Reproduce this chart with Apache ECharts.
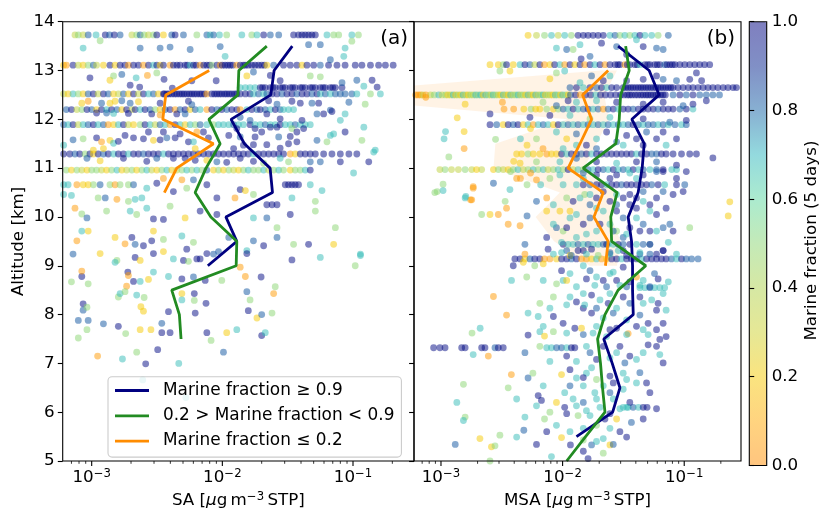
<!DOCTYPE html>
<html><head><meta charset="utf-8">
<script src="https://cdn.jsdelivr.net/npm/echarts@6/dist/echarts.min.js"></script>
<style>html,body{margin:0;padding:0;background:#fff}#c{width:823px;height:514px}</style>
</head><body><div id="c"></div>
<script>
// marine-fraction classes
const O=0.05, Y=0.2, L=0.35, G=0.5, A=0.68, B=0.82, N=0.97;

// ---------- Panel (a): SA ----------
const saLeg13_73=[[7.45e-4,L],[7.9e-4,G],[8.6e-4,L],[9.4e-4,B],[1.08e-3,A],[1.27e-3,N],[1.37e-3,B],[1.49e-3,N],[1.65e-3,B],[2.03e-3,L],[2.21e-3,G],[2.35e-3,B],[2.52e-3,G],[2.72e-3,L],[2.97e-3,G],[3.15e-3,N],[3.54e-3,Y],[4.1e-3,B],[4.35e-3,N],[5.04e-3,B],[6.38e-3,G],[7.61e-3,B],[8.07e-3,A],[8.56e-3,B],[9.5e-3,A],[1.08e-2,G],[1.41e-2,A],[1.68e-2,G],[1.84e-2,A],[2.07e-2,N],[2.33e-2,B],[2.7e-2,B],[3.51e-2,N],[3.83e-2,N],[4.07e-2,N],[4.31e-2,N],[4.57e-2,N],[4.85e-2,N],[5.15e-2,N],[6.32e-2,A],[7.11e-2,G],[7.77e-2,G],[9.8e-2,A],[0.11,G]];
const saLeg13_11=[[6.1e-4,Y],[6.4e-4,O],[7.2e-4,N],[7.9e-4,L],[8.6e-4,Y],[9.4e-4,G],[1.03e-3,B],[1.09e-3,L],[1.23e-3,Y],[1.38e-3,N],[1.51e-3,Y],[1.65e-3,N],[1.8e-3,N],[1.91e-3,O],[2.09e-3,N],[2.28e-3,N],[2.49e-3,O],[2.72e-3,N],[2.97e-3,A],[3.15e-3,N],[3.34e-3,Y],[3.54e-3,N],[3.98e-3,O],[4.22e-3,N],[4.5e-3,N],[4.75e-3,N],[5.19e-3,N],[5.4e-3,N],[5.67e-3,A],[6.01e-3,N],[6.3e-3,N],[6.76e-3,O],[7.2e-3,N],[7.61e-3,N],[8.0e-3,N],[8.3e-3,G],[9.08e-3,N],[9.63e-3,O],[1.0e-2,N],[1.05e-2,N],[1.1e-2,N],[1.15e-2,N],[1.2e-2,N],[1.29e-2,O],[1.37e-2,N],[1.45e-2,N],[1.5e-2,N],[1.58e-2,N],[1.68e-2,N],[1.78e-2,N],[1.89e-2,N],[2.0e-2,N],[2.1e-2,N],[2.19e-2,Y],[2.47e-2,B],[2.94e-2,N],[3.31e-2,N],[3.72e-2,N],[4.07e-2,Y],[4.44e-2,N],[5.0e-2,N],[5.62e-2,B],[6.5e-2,N],[7.54e-2,N],[8.7e-2,N],[0.104,N],[0.117,N],[0.136,N],[0.157,N],[0.177,N],[0.203,N]];
const saLeg12_65=[[1.37e-2,A],[1.5e-2,A],[1.63e-2,A],[1.78e-2,A],[1.95e-2,N],[2.03e-2,N],[2.13e-2,N],[2.33e-2,N],[2.44e-2,N],[2.54e-2,N],[2.77e-2,N],[2.9e-2,N],[3.03e-2,N],[3.31e-2,N],[3.45e-2,N],[3.61e-2,N],[3.95e-2,N],[4.1e-2,N],[4.31e-2,N],[4.71e-2,N],[4.9e-2,N],[5.15e-2,N],[5.62e-2,N],[5.9e-2,N],[6.14e-2,N],[6.71e-2,N],[7.0e-2,N],[7.33e-2,N],[8.24e-2,N]];
const saLeg12_52=[[6.1e-4,L],[6.6e-4,Y],[7.2e-4,A],[7.9e-4,G],[8.6e-4,Y],[9.4e-4,B],[1.03e-3,N],[1.12e-3,L],[1.23e-3,N],[1.34e-3,B],[1.47e-3,Y],[1.6e-3,L],[1.75e-3,B],[1.91e-3,Y],[2.09e-3,N],[2.28e-3,L],[2.49e-3,N],[2.72e-3,A],[2.97e-3,B],[3.24e-3,Y],[3.54e-3,N],[3.6e-3,N],[3.76e-3,N],[3.9e-3,N],[4.1e-3,N],[4.3e-3,N],[4.48e-3,N],[4.7e-3,N],[4.9e-3,N],[5.1e-3,N],[5.34e-3,N],[5.6e-3,N],[5.84e-3,N],[6.1e-3,N],[6.38e-3,N],[6.7e-3,N],[6.96e-3,N],[7.3e-3,N],[7.61e-3,O],[8.3e-3,N],[8.7e-3,N],[9.08e-3,N],[9.5e-3,N],[9.9e-3,N],[1.04e-2,N],[1.08e-2,N],[1.13e-2,N],[1.18e-2,N],[1.24e-2,N],[1.29e-2,N],[1.37e-2,N],[1.5e-2,N],[1.63e-2,N],[1.73e-2,A],[1.89e-2,B],[2.07e-2,A],[2.19e-2,B],[2.4e-2,N],[2.62e-2,N],[2.86e-2,B],[3.12e-2,N],[3.41e-2,N],[3.72e-2,B],[4.07e-2,N],[4.44e-2,N],[4.85e-2,B],[5.3e-2,N],[5.62e-2,A],[6.14e-2,B],[6.71e-2,A],[7.33e-2,B],[8.0e-2,B],[8.7e-2,B],[9.8e-2,B],[0.107,A],[0.136,G],[0.162,A]];
const saLeg12_20=[[6.4e-4,B],[7.0e-4,N],[7.7e-4,L],[8.4e-4,G],[9.2e-4,N],[1.0e-3,B],[1.09e-3,Y],[1.19e-3,N],[1.3e-3,A],[1.42e-3,N],[1.56e-3,B],[1.7e-3,Y],[1.85e-3,N],[2.03e-3,L],[2.15e-3,N],[2.35e-3,A],[2.56e-3,N],[2.8e-3,B],[3.06e-3,G],[3.34e-3,Y],[3.65e-3,B],[3.98e-3,N],[4.35e-3,O],[4.75e-3,B],[5.19e-3,N],[5.67e-3,Y],[6.2e-3,B],[6.76e-3,A],[7.61e-3,O],[8.3e-3,N],[9.08e-3,B],[9.9e-3,N],[1.08e-2,B],[1.18e-2,N],[1.29e-2,N],[1.37e-2,O],[1.54e-2,A],[1.68e-2,N],[1.84e-2,B],[1.95e-2,N],[2.13e-2,B],[2.33e-2,A],[2.54e-2,N],[2.77e-2,B],[2.94e-2,A],[3.21e-2,A],[3.51e-2,A]];
const saLeg11_89=[[6.1e-4,B],[6.6e-4,A],[7.2e-4,N],[7.9e-4,L],[8.6e-4,A],[9.4e-4,B],[1.03e-3,N],[1.12e-3,A],[1.23e-3,B],[1.34e-3,O],[1.47e-3,Y],[1.6e-3,A],[1.75e-3,N],[1.91e-3,L],[2.09e-3,Y],[2.35e-3,G],[2.56e-3,N],[2.8e-3,A],[3.06e-3,L],[3.34e-3,B],[3.65e-3,A],[3.98e-3,O],[4.35e-3,N],[4.75e-3,A],[5.19e-3,Y],[5.67e-3,A],[6.2e-3,G],[6.76e-3,B],[7.61e-3,A],[8.56e-3,G],[9.35e-3,A],[1.02e-2,A],[1.12e-2,A],[1.22e-2,B],[1.33e-2,A],[1.45e-2,A],[1.63e-2,N],[1.78e-2,A],[1.95e-2,A],[2.13e-2,B],[2.33e-2,A],[2.54e-2,A],[2.77e-2,N],[3.03e-2,A],[3.31e-2,A],[3.61e-2,B],[3.95e-2,A],[4.31e-2,A],[4.71e-2,A]];
const saLeg11_29=[[6.1e-4,N],[6.8e-4,N],[7.45e-4,B],[8.1e-4,N],[8.9e-4,G],[9.7e-4,N],[1.03e-3,Y],[1.12e-3,N],[1.23e-3,B],[1.34e-3,N],[1.47e-3,A],[1.6e-3,N],[1.75e-3,N],[1.91e-3,A],[2.09e-3,N],[2.28e-3,N],[2.49e-3,B],[2.72e-3,N],[2.97e-3,N],[3.24e-3,N],[3.54e-3,A],[3.87e-3,N],[4.22e-3,N],[4.61e-3,N],[5.04e-3,N],[5.5e-3,N],[6.01e-3,N],[6.57e-3,N],[7.17e-3,N],[7.83e-3,N],[8.56e-3,N],[9.35e-3,N],[1.02e-2,N],[1.12e-2,N],[1.22e-2,N],[1.33e-2,N],[1.45e-2,N],[1.58e-2,N],[1.73e-2,A],[1.89e-2,N],[2.07e-2,N],[2.26e-2,N],[2.47e-2,N],[2.7e-2,N],[2.94e-2,N],[3.31e-2,O],[3.61e-2,Y],[3.95e-2,N],[4.31e-2,N],[4.71e-2,N],[5.15e-2,N],[5.96e-2,N],[6.9e-2,N],[8.0e-2,N],[9.3e-2,N],[0.107,N]];
const saLeg10_96=[[6.4e-4,G],[7.0e-4,Y],[7.7e-4,G],[8.4e-4,L],[9.2e-4,Y],[1.0e-3,G],[1.09e-3,G],[1.19e-3,L],[1.3e-3,Y],[1.42e-3,G],[1.56e-3,A],[1.7e-3,Y],[1.85e-3,L],[2.03e-3,G],[2.21e-3,Y],[2.42e-3,G],[2.64e-3,A],[2.88e-3,L],[3.15e-3,Y],[3.44e-3,G],[3.76e-3,A],[4.1e-3,Y],[4.48e-3,L],[4.9e-3,G],[5.34e-3,A],[5.84e-3,G],[6.38e-3,A],[6.96e-3,G],[7.61e-3,B],[8.56e-3,Y],[9.35e-3,G],[1.02e-2,Y],[1.12e-2,G],[1.22e-2,L],[1.33e-2,Y],[1.45e-2,G],[1.58e-2,A],[1.73e-2,G],[1.89e-2,G],[2.07e-2,A],[2.26e-2,L],[2.47e-2,G],[2.7e-2,A],[2.94e-2,G],[3.31e-2,Y],[3.61e-2,G],[3.95e-2,G],[4.31e-2,A],[4.71e-2,N]];
const saLeg10_66=[[6.1e-4,A],[6.6e-4,A],[7.7e-4,O],[8.6e-4,Y],[9.4e-4,Y],[1.03e-3,G],[1.16e-3,B],[1.38e-3,G],[1.51e-3,O],[1.65e-3,G],[1.91e-3,G],[2.09e-3,B],[3.03e-2,N],[3.21e-2,N],[3.41e-2,N],[3.61e-2,N],[3.83e-2,N]];
const saPts=[[8.6e-4,13.46,A],[2.35e-3,13.46,B],[3.34e-3,13.46,B],[3.98e-3,13.48,B],[1.16e-3,13.61,G],[9.63e-3,13.49,B],[1.05e-2,13.29,A],[4.57e-2,13.53,B],[5.62e-2,13.53,B],[8.7e-2,13.46,A],[8.5e-2,13.29,A],[6.71e-2,13.22,B],[9.8e-2,13.6,G],[5.67e-3,13.43,B],
[9.7e-4,12.85,N],[1.38e-3,12.8,Y],[1.47e-3,12.89,G],[1.7e-3,12.92,B],[1.97e-3,12.7,N],[2.19e-3,12.85,A],[2.33e-3,12.66,N],[2.67e-3,12.9,O],[3.15e-3,12.95,G],[3.58e-3,12.82,N],[4.14e-3,12.64,N],[5.84e-3,12.79,N],[8.97e-3,12.79,N],[1.54e-2,12.89,Y],[1.73e-2,12.97,B],[2.33e-2,12.9,N],[2.77e-2,12.79,N],[4.71e-2,12.89,G],[5.62e-2,12.87,G],[8.24e-2,12.75,B],[0.107,12.8,B],[0.14,12.8,N],[0.121,12.68,A],[0.153,12.66,N],
[8.4e-4,12.33,Y],[9.4e-4,12.37,O],[1.19e-3,12.33,B],[1.38e-3,12.33,Y],[1.51e-3,12.37,Y],[1.7e-3,12.38,B],[1.97e-3,12.33,B],[2.28e-3,12.36,Y],[3.34e-3,12.33,N],[5.5e-3,12.37,N],[5.84e-3,12.3,B],[2.26e-2,12.38,N],[2.62e-2,12.31,B],[3.41e-2,12.37,N],[3.95e-2,12.33,N],[4.85e-2,12.33,B],[5.46e-2,12.33,N],[6.71e-2,12.19,B],[9.3e-2,12.35,B],[0.124,12.31,G],
[1.09e-3,12.13,N],[1.3e-3,12.13,B],[1.47e-3,12.12,A],[1.91e-3,12.12,N],[2.88e-3,12.11,N],[3.34e-3,12.09,O],[4.48e-3,12.11,N],[5.19e-3,12.11,B],[1.37e-2,12.04,B],[1.63e-2,11.98,B],[2.19e-2,12.11,N],[2.77e-2,12.01,N],[5.3e-2,12.11,B],[5.96e-2,12.11,N],[6.9e-2,12.16,N],[8.7e-2,12.11,A],[8.0e-2,11.98,A],
[7.2e-4,11.58,B],[8.6e-4,11.6,G],[6.1e-4,11.47,A],[1.09e-3,11.62,N],[1.19e-3,11.54,O],[1.38e-3,11.57,Y],[1.47e-3,11.51,A],[1.6e-3,11.55,N],[2.09e-3,11.62,N],[2.49e-3,11.6,N],[2.97e-3,11.57,Y],[3.34e-3,11.58,N],[3.76e-3,11.62,B],[4.35e-3,11.62,N],[4.75e-3,11.7,N],[5.5e-3,11.54,N],[6.01e-3,11.54,A],[6.2e-3,11.4,Y],[7.83e-3,11.62,N],[1.23e-3,11.4,Y],[1.03e-3,11.37,Y],[1.8e-3,11.67,N],[2.72e-3,11.74,N],[3.54e-3,11.74,N],[7.17e-3,11.74,N],[6.38e-3,11.74,O],[1.12e-2,11.67,N],[1.22e-2,11.4,N],[1.29e-2,11.81,N],[1.37e-2,11.64,B],[1.78e-2,11.81,N],[1.78e-2,11.64,N],[2.0e-2,11.74,N],[2.33e-2,11.84,N],[2.62e-2,11.84,N],[2.7e-2,11.64,B],[3.41e-2,11.81,G],[3.31e-2,11.65,N],[3.72e-2,11.74,N],[4.07e-2,11.98,N],[4.19e-2,11.81,N],[6.71e-2,11.67,A],[7.11e-2,11.7,A],[8.7e-2,11.74,N],[0.121,11.84,A],[0.117,11.57,G],[0.148,11.37,A],[6.32e-2,11.54,G],[5.3e-2,11.57,B],[3.72e-2,11.54,N],[3.21e-2,11.5,N],[2.77e-2,11.41,N],[2.19e-2,11.48,N],[1.73e-2,11.48,N],[1.45e-2,11.47,N],
[9.2e-4,11.2,B],[1.16e-3,11.15,Y],[1.75e-3,11.2,N],[2.64e-3,11.14,N],[3.15e-3,11.2,B],[4.22e-3,11.2,N],[5.19e-3,11.2,N],[6.2e-3,11.16,N],[7.61e-3,11.16,Y],[9.08e-3,11.13,B],[1.08e-2,11.12,N],[1.37e-2,11.2,N],[1.73e-2,11.14,N],[2.07e-2,11.1,G],[2.77e-2,11.2,A],[3.21e-2,11.13,G],[4.71e-2,11.13,B],[5.62e-2,11.13,B],[8.0e-2,11.13,N],[0.132,11.13,N],[0.144,11.33,A],
[6.1e-4,10.46,A],[7.0e-4,10.44,A],[1.12e-3,10.39,G],[1.27e-3,10.39,B],[1.56e-3,10.36,O],[1.91e-3,10.32,G],[2.15e-3,10.36,A],[2.42e-3,10.39,A],[2.64e-3,10.59,A],[3.15e-3,10.69,N],[3.54e-3,10.79,O],[4.22e-3,10.52,N],[4.9e-3,10.76,O],[5.34e-3,10.59,G],[6.01e-3,10.76,B],[7.61e-3,10.66,N],[9.08e-3,10.39,N],[1.25e-2,10.39,O],[1.37e-2,10.56,N],[1.5e-2,10.54,Y],[1.73e-2,10.46,G],[2.19e-2,10.25,N],[2.4e-2,10.25,N],[2.62e-2,10.25,N],[3.41e-2,10.39,A],[4.71e-2,10.66,A],[5.79e-2,10.54,A],[5.15e-2,10.32,G],[0.101,10.9,A],
[7.45e-4,10.18,O],[8.4e-4,10.06,G],[9.2e-4,9.98,B],[1.3e-3,10.12,G],[1.97e-3,10.12,A],[2.21e-3,10.05,G],[2.64e-3,10.18,A],[2.97e-3,9.96,N],[3.54e-3,9.95,N],[3.98e-3,10.22,G],[5.19e-3,9.98,Y],[6.76e-3,10.12,N],[9.08e-3,10.05,N],[1.73e-2,9.98,A],[2.19e-2,9.98,B],[2.62e-2,9.78,G],[3.31e-2,10.05,N],[5.15e-2,10.12,G],
[7.7e-4,9.51,O],[8.4e-4,9.71,A],[9.4e-4,9.71,Y],[1.51e-3,9.58,Y],[1.8e-3,9.45,O],[2.03e-3,9.58,N],[2.15e-3,9.44,B],[2.49e-3,9.41,N],[2.88e-3,9.51,N],[2.97e-3,9.71,Y],[3.54e-3,9.54,G],[4.9e-3,9.61,A],[5.34e-3,9.34,N],[6.01e-3,9.48,G],[8.56e-3,9.24,B],[1.12e-2,9.58,B],[1.54e-2,9.31,A],[1.73e-2,9.51,B],[2.07e-2,9.41,N],[2.62e-2,9.58,B],[3.51e-2,9.44,G],[4.57e-2,9.44,N],[7.11e-2,9.44,Y],[7.33e-2,9.78,G],[0.114,9.24,A],
[7.2e-4,9.24,B],[1.16e-3,9.25,Y],[1.56e-3,9.11,G],[2.15e-3,9.17,N],[2.35e-3,9.11,Y],[2.97e-3,9.25,N],[3.54e-3,9.29,Y],[4.22e-3,9.14,A],[5.04e-3,9.11,N],[5.5e-3,9.09,G],[6.38e-3,9.14,N],[6.76e-3,9.14,N],[7.61e-3,9.25,N],[9.35e-3,9.29,B],[1.37e-2,8.97,O],[1.54e-2,9.25,N],[3.41e-2,9.12,N],[5.62e-2,9.17,A],[0.114,9.21,A],[0.104,9.0,G],
[7.0e-4,8.67,G],[8.4e-4,8.78,N],[8.4e-4,8.89,O],[9.4e-4,8.63,G],[1.51e-3,9.07,A],[1.89e-3,8.87,N],[1.91e-3,8.8,O],[1.85e-3,8.58,O],[2.09e-3,8.68,N],[2.35e-3,8.68,A],[2.72e-3,8.72,Y],[2.97e-3,8.87,A],[3.87e-3,8.78,A],[4.9e-3,8.73,N],[6.01e-3,8.77,B],[7.39e-3,8.7,N],[9.9e-3,8.7,G],[1.5e-2,8.78,O],[1.98e-2,8.77,N],[2.54e-2,8.57,G],
[8.6e-4,8.22,N],[8.6e-4,8.09,B],[9.2e-4,8.15,G],[1.6e-3,8.36,G],[1.65e-3,8.43,A],[1.8e-3,8.47,G],[2.21e-3,8.4,A],[2.52e-3,8.35,G],[2.38e-3,8.16,Y],[2.49e-3,8.07,Y],[3.87e-3,8.06,N],[4.9e-3,8.43,Y],[4.9e-3,8.3,A],[6.1e-3,8.43,N],[6.1e-3,8.29,G],[6.2e-3,8.03,N],[7.5e-3,8.23,N],[1.54e-2,8.47,B],[1.58e-2,8.08,N],[1.63e-2,8.3,G],[1.84e-2,7.93,Y],[2.0e-2,8.0,B],[2.4e-2,8.03,G],[2.47e-2,8.43,O],
[7.9e-4,7.88,B],[9.4e-4,7.88,B],[9.2e-4,7.69,G],[1.23e-3,7.81,B],[1.6e-3,7.76,N],[1.82e-3,7.61,G],[2.35e-3,7.69,Y],[2.84e-3,7.69,Y],[3.44e-3,7.63,N],[3.44e-3,7.82,B],[3.98e-3,7.63,N],[7.61e-3,7.63,N],[8.2e-3,7.47,G],[1.08e-2,7.63,Y],[1.29e-2,7.69,A],[2.0e-2,7.57,N],[2.13e-2,7.63,A],[7.9e-4,7.52,G],
[1.11e-3,7.15,O],[1.72e-3,7.09,A],[2.21e-3,7.23,G],[2.59e-3,6.99,N],[3.2e-3,7.28,N],[4.64e-3,7.0,A],[1.02e-2,7.23,B],[2.46e-3,6.66,A],[5.26e-3,6.3,A]];
// profile lines (a)
const saHighAlt=[13.5,13,12.5,12,11.5,11,10.5,10,9.5,9];
const saHighVal=[0.0343,0.0249,0.0235,0.01166,0.01476,0.0232,0.0242,0.01064,0.0129,0.00774];
const saMidAlt=[13.5,13,12.5,12,11.5,11,10.5,10,9.5,9,8.5,8,7.5];
const saMidVal=[0.0219,0.01337,0.01315,0.00789,0.00962,0.0075,0.00619,0.00817,0.0129,0.01276,0.0041,0.00469,0.00483];
const saLowAlt=[13,12.5,12,11.5,11,10.5];
const saLowVal=[0.00793,0.00369,0.0035,0.00855,0.00448,0.0036];

// ---------- Panel (b): MSA ----------
const msaLeg13_72=[[5.2e-3,Y],[6.1e-3,L],[7.1e-3,G],[8.1e-3,A],[9.2e-3,L],[1.04e-2,A],[1.18e-2,G],[1.34e-2,N],[1.48e-2,N],[1.62e-2,N],[1.78e-2,N],[1.96e-2,N],[2.16e-2,N],[2.45e-2,A],[2.7e-2,B],[2.96e-2,G],[3.25e-2,A],[3.57e-2,G],[3.93e-2,A],[4.32e-2,N],[4.75e-2,A],[5.4e-2,A],[6.1e-2,G],[7.4e-2,B]];
const msaLeg13_12=[[2.53e-3,Y],[2.96e-3,Y],[3.25e-3,G],[3.46e-3,N],[3.93e-3,Y],[4.47e-3,A],[4.9e-3,N],[5.39e-3,B],[5.9e-3,L],[6.5e-3,N],[7.1e-3,O],[7.86e-3,Y],[8.6e-3,N],[9.5e-3,A],[1.04e-2,O],[1.15e-2,N],[1.26e-2,Y],[1.39e-2,N],[1.52e-2,O],[1.68e-2,N],[1.84e-2,A],[2.03e-2,N],[2.23e-2,O],[2.45e-2,N],[2.7e-2,N],[2.85e-2,N],[2.96e-2,N],[3.25e-2,O],[3.4e-2,N],[3.57e-2,N],[3.93e-2,N],[4.1e-2,N],[4.32e-2,A],[4.75e-2,N],[5.0e-2,N],[5.22e-2,N],[5.7e-2,N],[6.0e-2,N],[6.3e-2,N],[6.9e-2,B],[7.2e-2,N],[7.62e-2,N],[8.0e-2,N],[8.4e-2,N],[9.2e-2,N],[0.101,N],[0.111,N],[0.122,N],[0.134,N],[0.147,N],[0.162,N]];
const msaLeg12_65=[[1.15e-2,B],[1.3e-2,N],[1.48e-2,A],[1.68e-2,N],[1.9e-2,B],[2.09e-2,N],[2.3e-2,A],[2.53e-2,N],[2.78e-2,N],[3.15e-2,N],[3.3e-2,N],[3.46e-2,N],[3.63e-2,N],[3.8e-2,N],[4.0e-2,N],[4.2e-2,N],[4.4e-2,N],[4.6e-2,N],[4.83e-2,N],[5.05e-2,N],[5.3e-2,N],[5.56e-2,N],[5.83e-2,N],[6.1e-2,N],[6.4e-2,N],[6.71e-2,N],[7.05e-2,N],[7.4e-2,N],[7.75e-2,N],[8.1e-2,N],[8.9e-2,N],[9.8e-2,N],[0.108,N],[0.118,N],[0.13,N],[0.143,N],[0.157,N],[0.172,N],[0.189,N],[0.209,N],[0.229,N],[0.252,N],[0.269,N]];
const msaLeg12_50=[[6.2e-4,O],[6.5e-4,O],[6.8e-4,O],[7.1e-4,L],[7.5e-4,O],[8.2e-4,L],[8.8e-4,G],[9.6e-4,A],[1.02e-3,L],[1.09e-3,G],[1.14e-3,Y],[1.2e-3,L],[1.26e-3,A],[1.32e-3,Y],[1.38e-3,G],[1.45e-3,Y],[1.52e-3,A],[1.6e-3,L],[1.67e-3,Y],[1.75e-3,G],[1.84e-3,L],[1.93e-3,A],[2.02e-3,G],[2.12e-3,A],[2.22e-3,Y],[2.33e-3,A],[2.45e-3,G],[2.56e-3,L],[2.68e-3,A],[2.81e-3,G],[2.95e-3,L],[3.09e-3,Y],[3.25e-3,A],[3.4e-3,L],[3.56e-3,Y],[3.73e-3,A],[3.9e-3,L],[4.1e-3,G],[4.3e-3,A],[4.5e-3,L],[4.72e-3,G],[4.96e-3,Y],[5.2e-3,A],[5.45e-3,L],[5.72e-3,Y],[6.0e-3,A],[6.3e-3,L],[6.6e-3,G],[6.9e-3,A],[7.2e-3,Y],[7.55e-3,G],[7.9e-3,L],[8.3e-3,Y],[8.7e-3,A],[9.1e-3,G],[9.6e-3,Y],[1.0e-2,A],[1.06e-2,G],[1.11e-2,Y],[1.16e-2,B],[1.28e-2,N],[1.4e-2,O],[1.54e-2,N],[1.7e-2,N],[1.87e-2,A],[2.05e-2,N],[2.25e-2,N],[2.48e-2,N],[2.73e-2,N],[3.0e-2,N],[3.2e-2,N],[3.4e-2,N],[3.55e-2,N],[3.72e-2,N],[3.95e-2,N],[4.16e-2,N],[4.4e-2,N],[4.6e-2,N],[4.85e-2,N],[5.05e-2,N],[5.3e-2,N],[5.56e-2,N],[5.85e-2,N],[6.1e-2,N],[6.4e-2,N],[6.71e-2,N],[7.0e-2,N],[8.1e-2,B],[9.2e-2,N],[0.104,B],[0.118,N],[0.134,B],[0.152,B],[0.172,B],[0.195,B]];
const msaLeg12_21=[[3.3e-3,O],[3.96e-3,O],[4.8e-3,Y],[5.5e-3,G],[6.0e-3,Y],[6.5e-3,Y],[7.4e-3,G],[8.4e-3,Y],[9.2e-3,G],[1.01e-2,B],[1.11e-2,A],[1.22e-2,N],[1.34e-2,A],[1.48e-2,B],[1.62e-2,N],[1.78e-2,A],[1.96e-2,B],[2.16e-2,O],[2.37e-2,B],[2.61e-2,N],[2.87e-2,A],[3.15e-2,N],[3.46e-2,N],[3.8e-2,B],[4.2e-2,N],[4.6e-2,N],[5.05e-2,N],[5.56e-2,N],[6.1e-2,B],[6.71e-2,N],[7.4e-2,N],[8.1e-2,N],[9.2e-2,B],[0.104,N],[0.118,A]];
const msaLeg11_89=[[2.53e-3,N],[2.87e-3,B],[3.25e-3,Y],[3.57e-3,N],[3.93e-3,B],[4.3e-3,N],[4.75e-3,Y],[5.2e-3,A],[5.74e-3,O],[6.3e-3,A],[6.93e-3,B],[7.6e-3,A],[8.4e-3,Y],[9.2e-3,N],[1.01e-2,A],[1.11e-2,B],[1.22e-2,A],[1.34e-2,B],[1.48e-2,A],[1.62e-2,B],[1.78e-2,A],[1.96e-2,B],[2.16e-2,A],[2.37e-2,B],[2.61e-2,A],[2.87e-2,B],[3.15e-2,A],[3.46e-2,B],[3.8e-2,N],[4.2e-2,B],[4.6e-2,A],[5.05e-2,B],[5.56e-2,B],[6.1e-2,A],[6.71e-2,B],[7.4e-2,A],[8.4e-2,B],[9.5e-2,A],[0.104,B]];
const msaLeg11_29=[[4.19e-3,Y],[4.6e-3,Y],[5.2e-3,G],[5.74e-3,Y],[6.5e-3,Y],[7.4e-3,O],[8.1e-3,Y],[8.9e-3,Y],[9.8e-3,N],[1.08e-2,A],[1.18e-2,N],[1.3e-2,N],[1.43e-2,B],[1.57e-2,N],[1.73e-2,A],[1.9e-2,N],[2.09e-2,N],[2.3e-2,N],[2.53e-2,N],[2.78e-2,N],[3.05e-2,N],[3.36e-2,N],[3.68e-2,N],[4.05e-2,A],[4.45e-2,N],[4.9e-2,N],[5.4e-2,B],[5.92e-2,B],[6.5e-2,N],[7.1e-2,N],[8.1e-2,N],[9.5e-2,N],[0.111,N],[0.126,N]];
const msaLeg10_97=[[9.8e-4,L],[1.08e-3,G],[1.22e-3,L],[1.39e-3,L],[1.58e-3,G],[1.79e-3,L],[1.96e-3,Y],[2.16e-3,L],[2.7e-3,Y],[2.96e-3,G],[3.25e-3,L],[3.57e-3,Y],[3.93e-3,G],[4.3e-3,A],[4.75e-3,L],[5.2e-3,G],[5.74e-3,A],[6.3e-3,G],[6.93e-3,A],[7.6e-3,L],[8.4e-3,G],[9.2e-3,A],[1.01e-2,G],[1.11e-2,N],[1.22e-2,L],[1.34e-2,A],[1.48e-2,G],[1.62e-2,B],[1.78e-2,A],[1.96e-2,N],[2.16e-2,B],[2.37e-2,A],[2.61e-2,N],[2.87e-2,A],[3.15e-2,B],[3.46e-2,A],[3.8e-2,N],[4.2e-2,A],[4.6e-2,B],[5.22e-2,A],[5.92e-2,B],[6.71e-2,N],[7.9e-2,A],[8.64e-2,A]];
const msaLeg10_66=[[1.3e-2,A],[1.48e-2,N],[1.68e-2,B],[1.9e-2,N],[2.09e-2,N],[2.3e-2,A],[2.53e-2,N],[2.78e-2,N],[3.05e-2,B],[3.36e-2,N],[3.68e-2,N],[4.05e-2,N],[4.45e-2,N],[4.9e-2,N],[5.4e-2,B],[6.1e-2,N],[6.9e-2,A],[8.64e-2,N],[0.101,B]];
const msaLeg9_44=[[1.01e-2,N],[1.11e-2,A],[1.22e-2,A],[1.34e-2,B],[1.48e-2,A],[1.62e-2,B],[1.78e-2,A],[1.96e-2,A],[2.16e-2,B],[2.37e-2,A],[2.61e-2,A],[2.87e-2,N],[3.15e-2,B],[3.57e-2,N],[4.05e-2,A],[4.6e-2,B],[5.22e-2,A]];
const msaLeg9_14=[[4.05e-3,N],[4.47e-3,N],[4.9e-3,Y],[5.39e-3,B],[5.9e-3,N],[6.5e-3,N],[7.1e-3,O],[7.86e-3,O],[8.92e-3,Y],[9.8e-3,N],[1.08e-2,N],[1.18e-2,B],[1.3e-2,N],[1.43e-2,O],[1.57e-2,O],[1.73e-2,Y],[1.9e-2,A],[2.09e-2,O],[2.3e-2,Y],[2.53e-2,N],[2.78e-2,N],[3.05e-2,A],[3.36e-2,N],[3.68e-2,N],[4.05e-2,N],[4.45e-2,A],[4.9e-2,N],[5.4e-2,N],[5.92e-2,N],[6.5e-2,N],[7.1e-2,N],[7.85e-2,B],[8.64e-2,A],[9.5e-2,N],[0.104,B],[0.115,B],[0.13,B]];
const msaLeg8_55=[[4.32e-2,A],[4.75e-2,A],[5.22e-2,B],[5.7e-2,A],[6.3e-2,A],[6.9e-2,A]];
const msaLeg7_32=[[8.7e-4,N],[9.8e-4,N],[1.08e-3,N],[1.48e-3,N],[1.58e-3,N],[2.16e-3,N],[2.3e-3,N],[2.78e-3,B],[2.96e-3,N],[3.25e-3,N],[7.4e-3,A],[8.1e-3,A],[8.92e-3,B],[9.8e-3,B],[1.08e-2,A],[1.18e-2,N],[1.26e-2,N]];
const msaLeg6_10=[[3.15e-2,A],[3.46e-2,A],[3.8e-2,B],[4.2e-2,A],[4.6e-2,N],[4.95e-2,N]];
const msaPts=[[8.9e-3,13.46,A],[1.08e-2,13.43,B],[1.39e-2,13.53,A],[2.09e-2,13.56,N],[2.78e-2,13.49,B],[4.05e-2,13.63,A],[4.6e-2,13.49,N],[5.92e-2,13.46,B],[6.71e-2,13.43,B],[3.36e-2,13.33,N],[1.42e-2,13.24,N],[1.68e-2,13.29,B],[1.22e-2,13.43,G],
[3.05e-3,12.99,G],[3.69e-3,12.99,Y],[7.86e-3,12.83,Y],[8.9e-3,12.95,G],[1.04e-2,12.99,A],[1.39e-2,12.75,A],[1.73e-2,12.89,B],[2.16e-2,12.79,N],[2.45e-2,12.89,A],[3.36e-2,12.79,N],[4.6e-2,12.82,N],[5.92e-2,12.89,N],[6.71e-2,12.82,B],[8.64e-2,12.79,B],[0.111,12.82,N],[0.139,12.79,N],[0.126,12.95,N],
[1.58e-3,12.31,Y],[7.5e-4,12.45,O],[3.2e-3,12.35,O],[6.9e-3,12.35,G],[8.9e-3,12.28,B],[1.11e-2,12.38,N],[1.3e-2,12.35,A],[1.9e-2,12.38,A],[2.78e-2,12.35,N],[4.6e-2,12.31,N],[6.71e-2,12.35,N],[9.8e-2,12.28,B],[0.118,12.31,N],[0.152,12.38,N],
[1.36e-3,12.03,Y],[1.09e-3,11.75,A],[1.55e-3,11.75,Y],[1.06e-3,11.6,A],[2.81e-3,11.59,G],[1.55e-3,11.4,O],[1.16e-3,11.23,G],[1.04e-3,10.67,G],[9.3e-4,10.52,G],[1.6e-3,10.42,A],[1.75e-3,10.35,O],[1.84e-3,10.59,O],[2.7e-3,10.69,B],[3.73e-3,10.93,G],[4.5e-3,10.79,O],[5.45e-3,10.9,O],[5.45e-3,11.81,Y],[4.5e-3,11.6,A],[3.96e-3,11.14,Y],[6.6e-3,10.66,A],
[8.9e-3,11.74,A],[1.08e-2,11.6,Y],[1.3e-2,11.7,B],[1.57e-2,11.47,N],[1.9e-2,11.6,A],[2.3e-2,11.74,N],[2.78e-2,11.54,B],[3.36e-2,11.67,N],[4.05e-2,11.6,N],[4.9e-2,11.74,B],[5.92e-2,11.6,N],[7.1e-2,11.47,A],[8.64e-2,11.6,N],[6.1e-3,11.6,G],[5.1e-3,11.47,Y],[6.9e-3,11.4,O],[1.01e-2,11.4,A],[1.3e-2,11.47,A],[1.9e-2,11.4,B],[3.15e-2,11.47,A],[4.6e-2,11.47,N],[6.71e-2,11.74,N],[0.104,11.98,N],[7.6e-2,11.94,B],[4.6e-2,12.01,N],[2.45e-2,12.04,A],[1.68e-2,12.01,G],[1.15e-2,12.08,A],[7.86e-3,12.08,N],[5.39e-3,12.04,N],[2.53e-3,12.11,N],[0.172,11.21,N],
[9.5e-3,11.13,A],[1.3e-2,11.2,B],[1.9e-2,11.13,N],[2.78e-2,11.1,A],[4.05e-2,11.13,N],[5.92e-2,11.13,B],[8.64e-2,11.06,N],[6.1e-3,11.13,G],[4.47e-3,11.1,Y],
[7.86e-3,10.79,G],[1.01e-2,10.66,A],[1.48e-2,10.79,A],[2.45e-2,10.79,N],[4.05e-2,10.79,A],[5.1e-3,10.66,G],[3.69e-3,10.56,A],
[1.04e-3,10.54,A],[8.9e-4,10.5,G],[1.84e-3,10.62,O],[1.79e-3,10.35,O],[1.58e-3,10.39,A],[2.16e-3,10.05,G],[2.53e-3,10.05,Y],[2.96e-3,10.05,O],[3.46e-3,10.18,O],[3.37e-3,10.32,G],[3.57e-3,9.85,O],[4.19e-3,10.79,O],[6.1e-3,10.76,O],[6.1e-3,10.32,B],[7.4e-3,10.39,O],[7.4e-3,10.12,Y],[8.4e-3,10.25,A],[9.5e-3,10.12,Y],[5.1e-3,10.02,B],[4.47e-3,9.82,O],[4.9e-3,9.44,B],[7.4e-3,9.58,N],[7.6e-3,9.34,N],[8.9e-3,9.78,B],[1.01e-2,9.71,G],[1.15e-2,9.98,A],[1.22e-2,10.32,N],[1.39e-2,10.39,A],[1.52e-2,10.46,G],[1.68e-2,10.25,B],[1.9e-2,10.39,N],[2.16e-2,10.12,A],[2.45e-2,10.32,N],[2.78e-2,10.25,B],[3.15e-2,10.39,N],[3.57e-2,10.25,N],[4.05e-2,10.39,N],[4.6e-2,10.32,A],[5.22e-2,10.25,N],[5.92e-2,10.39,N],[6.71e-2,10.52,B],[8.1e-2,10.46,N],[9.8e-2,10.52,N],[8.64e-2,10.79,N],[0.104,10.93,N],[6.71e-2,10.93,N],[1.3e-2,10.05,A],[1.48e-2,9.85,N],[1.68e-2,9.98,B],[1.9e-2,9.71,A],[2.45e-2,9.85,A],[2.78e-2,9.71,G],[3.15e-2,9.98,B],[3.57e-2,9.78,N],[4.05e-2,9.98,A],[4.6e-2,9.85,B],[5.22e-2,9.71,N],[5.92e-2,10.05,N],[6.71e-2,9.78,B],[8.1e-2,9.71,N],[5.22e-2,9.44,N],[7.4e-2,9.48,A],[5.92e-2,9.24,N],[0.111,9.78,G],[0.237,10.31,Y],[0.23,10.02,Y],[3.15e-2,9.58,B],[2.3e-2,9.44,N],[1.3e-2,9.58,A],[1.48e-2,9.31,N],[1.08e-2,9.31,B],[9.8e-3,9.48,A],
[9.5e-3,10.86,A],[1.48e-2,10.9,B],[1.9e-2,10.86,N],[2.78e-2,10.86,N],[3.57e-2,10.9,A],[4.6e-2,10.86,N],[5.92e-2,10.93,B],[1.08e-2,10.39,G],[1.68e-2,10.46,A],[2.16e-2,10.52,N],[2.78e-2,10.46,A],[3.57e-2,10.46,N],[4.6e-2,10.52,B],[1.15e-2,10.12,Y],[1.9e-2,10.18,A],[2.78e-2,10.12,N],[4.05e-2,10.18,N],[5.22e-2,10.12,A],[7.1e-2,10.18,N],[8.4e-3,9.85,A],[1.08e-2,9.78,N],[1.57e-2,9.65,A],[2.03e-2,9.85,N],[2.61e-2,9.71,B],[3.36e-2,9.65,A],[4.32e-2,9.71,N],[5.92e-2,9.71,A],[7.62e-2,9.85,B],[8.4e-3,9.24,A],[1.15e-2,9.21,Y],[2.45e-2,9.24,A],[3.15e-2,9.31,N],[4.32e-2,9.24,B],[6.71e-2,9.31,N],[8.64e-2,9.24,A],
[3.93e-3,9.0,N],[4.9e-3,9.24,O],[6.93e-3,9.04,Y],[9.8e-3,8.9,N],[1.15e-2,8.84,A],[1.48e-2,9.0,A],[1.68e-2,8.9,B],[1.9e-2,8.77,A],[2.16e-2,8.7,N],[2.45e-2,8.84,A],[2.78e-2,8.7,N],[3.15e-2,8.97,N],[4.05e-2,8.77,O],[4.6e-2,8.7,A],[5.7e-2,8.84,B],[6.71e-2,8.43,A],[5.07e-3,8.77,G],[1.01e-2,8.7,A],[8.4e-3,8.36,G],[1.15e-2,8.36,A],[2.7e-3,8.37,O],[1.48e-2,8.43,A],[1.73e-2,8.4,N],[2.03e-2,8.3,A],[2.45e-2,8.43,A],[3.15e-2,8.36,N],[3.36e-2,8.57,B],[4.6e-2,8.23,A],[5.92e-2,8.09,N],[7.1e-2,8.09,A],[3.46e-3,7.99,O],[5.2e-3,8.03,A],[6.3e-3,7.96,A],[8.4e-3,7.96,N],[1.01e-2,7.82,N],[1.48e-2,8.13,N],[1.73e-2,8.03,N],[2.16e-2,7.93,A],[2.61e-2,8.03,B],[3.36e-2,7.89,A],[4.32e-2,7.99,B],[5.05e-2,7.82,N],[6.71e-2,7.82,N],[1.8e-3,7.62,G],[2.1e-3,7.72,A],[5.2e-3,7.58,N],[6.5e-3,7.65,A],[7.1e-3,7.56,Y],[1.43e-2,7.72,Y],[1.78e-2,7.62,A],[2.45e-2,7.69,N],[3.46e-2,7.61,O],[4.6e-2,7.69,A],[6.3e-2,7.49,N],[7.1e-2,7.55,N],[1.84e-3,7.18,A],[2.45e-3,7.15,O],[4.9e-3,7.22,B],[1.68e-2,7.22,B],[2.16e-2,7.35,N],[2.78e-2,7.22,A],[3.57e-2,7.15,N],[4.6e-2,7.22,A],[5.92e-2,7.35,N],[6.71e-2,7.01,N],[3.79e-3,6.77,O],[5.2e-3,6.7,B],[5.7e-3,6.8,G],[9.8e-3,6.77,Y],[1.15e-2,6.87,N],[1.3e-2,6.7,A],[1.57e-2,6.8,A],[1.9e-2,6.67,G],[2.45e-2,6.74,N],[3.15e-2,6.8,A],[4.05e-2,6.6,A],[4.9e-2,6.6,N],[3.15e-2,6.47,A],[2.45e-2,6.4,B],[1.84e-2,6.4,A],[1.48e-2,6.54,A],[1.04e-2,6.4,A],[6.3e-3,6.34,N],[1.53e-3,6.57,G],[1.35e-3,6.2,A],[3.57e-3,6.5,G],[4.19e-3,6.27,A],[6.7e-3,6.24,N],[8.9e-3,6.2,Y],[1.22e-2,6.27,A],[1.48e-2,6.2,B],[1.9e-2,6.27,A],[2.61e-2,6.27,A],[3.57e-2,6.2,N],[5.92e-2,6.07,N],[1.58e-3,5.9,G],[1.53e-3,5.83,A],[4.9e-3,5.9,A],[7.1e-3,5.86,G],[8.9e-3,5.73,A],[1.04e-2,6.1,N],[1.34e-2,5.93,G],[1.68e-2,5.93,A],[2.23e-2,5.86,N],[2.78e-2,5.86,Y],[3.68e-2,5.79,B],[4.6e-2,5.86,N],[2.09e-3,5.46,Y],[1.31e-3,5.34,B],[2.6e-3,5.29,Y],[2.78e-3,5.31,G],[3.05e-3,5.53,G],[4.19e-3,5.49,A],[4.8e-3,5.63,B],[6.1e-3,5.34,N],[7.4e-3,5.6,N],[9.8e-3,5.48,Y],[1.16e-2,5.33,N],[1.48e-2,5.2,N],[1.73e-2,5.33,B],[2.16e-2,5.46,A],[2.45e-2,5.33,Y],[2.61e-2,5.34,B],[2.16e-2,5.16,G],[3.36e-2,5.49,N],[1.62e-2,5.05,N],[8.1e-3,5.09,A],[2.53e-3,5.0,G],
[9.8e-3,9.27,A],[1.18e-2,9.21,B],[1.34e-2,9.31,N],[1.57e-2,9.24,A],[1.73e-2,9.34,N],[1.96e-2,9.21,G],[2.45e-2,9.27,B],[2.87e-2,9.31,A],[3.36e-2,9.21,N],[4.32e-2,9.27,A],[5.22e-2,9.24,B],[6.71e-2,9.31,N],[4.75e-3,9.07,Y],[5.9e-3,9.0,G],
[1.08e-2,8.7,Y],[1.3e-2,8.57,A],[1.57e-2,8.73,N],[1.84e-2,8.6,A],[2.3e-2,8.57,B],[2.61e-2,8.87,A],[2.96e-2,8.6,A],[3.57e-2,8.67,N],[4.32e-2,8.6,A],[5.22e-2,8.57,B],[6.1e-2,8.73,N],[7.4e-2,8.67,A],[6.93e-3,8.7,A],[8.92e-3,8.63,G],[3.8e-3,8.7,A],
[1.08e-2,8.2,A],[1.3e-2,8.26,N],[1.52e-2,8.2,A],[1.9e-2,8.13,B],[2.37e-2,8.23,N],[2.78e-2,8.13,A],[3.57e-2,8.23,B],[4.32e-2,8.36,N],[5.4e-2,8.3,A],[6.1e-2,8.23,N],[6.5e-3,8.23,G],[7.86e-3,8.13,A],
[1.08e-2,7.62,A],[1.26e-2,7.72,N],[1.48e-2,7.59,B],[1.9e-2,7.76,A],[2.3e-2,7.55,A],[2.78e-2,7.72,N],[3.36e-2,7.59,A],[4.05e-2,7.76,N],[5.05e-2,7.59,A],[5.92e-2,7.69,N],[6.93e-3,7.76,A],[8.4e-3,7.65,G],
[1.08e-2,7.15,N],[1.3e-2,7.04,A],[1.57e-2,7.35,A],[1.9e-2,7.08,N],[2.45e-2,7.11,A],[2.96e-2,7.35,N],[3.25e-2,7.01,B],[4.05e-2,7.08,A],[5.05e-2,7.38,N],[6.3e-2,7.18,A],[7.86e-3,7.04,A],[6.5e-3,7.35,G],
[1.15e-2,6.54,B],[1.48e-2,6.71,N],[1.73e-2,6.91,A],[2.16e-2,6.54,A],[2.61e-2,6.6,N],[3.36e-2,6.67,A],[4.32e-2,6.81,B],[5.22e-2,6.4,N],[6.93e-3,6.54,A],
[1.08e-2,5.97,N],[1.3e-2,6.13,A],[1.57e-2,6.03,A],[2.03e-2,6.1,A],[2.45e-2,5.97,N],[2.96e-2,6.07,A],[3.36e-2,6.1,A],[7.86e-3,6.0,G],[6.1e-3,6.13,A],
[1.15e-2,5.6,A],[1.48e-2,5.67,A],[1.9e-2,5.73,G],[2.45e-2,5.67,A],[2.96e-2,5.6,N],[1.9e-2,5.4,A],[1.48e-2,5.43,G]];
// profile lines (b)
const msaHighAlt=[13.5,13,12.5,12,11.5,11,10.5,10,9.5,9,8.5,8,7.5,7,6.5,6,5.5];
const msaHighVal=[0.0286,0.0515,0.0622,0.0371,0.0469,0.0451,0.0418,0.0346,0.0369,0.0376,0.0376,0.0381,0.0218,0.0256,0.0296,0.0258,0.0130];
const msaMidAlt=[13.5,13,12.5,12,11.5,11,10.5,10,9.5,9,8.5,8,7.5,7,6.5,6,5.5,5];
const msaMidVal=[0.033,0.0353,0.030,0.0292,0.0274,0.01475,0.0281,0.0249,0.0253,0.0483,0.0286,0.0223,0.0194,0.0205,0.0213,0.0223,0.01545,0.0108];
const msaLowAlt=[13,12.5,12,11.5,11,10.5,10,9.5,9];
const msaLowVal=[0.0237,0.0146,0.0173,0.0139,0.0111,0.0216,0.0181,0.0237,0.0225];
// spread band of the low-marine profile (b)
const msaSpreadAlt=[13,12.5,12,11.5,11,10.5,10,9.5,9];
const msaSpreadLo=[0.0205,6.7e-5,0.011,0.0028,0.0027,0.0095,0.006,0.0085,0.0167];
const msaSpreadHi=[0.028,0.022,0.024,0.019,0.015,0.028,0.025,0.03,0.028];

// axes
const xMajor=[1e-3,1e-2,1e-1];
const xMinor=[7e-4,8e-4,9e-4,2e-3,3e-3,4e-3,5e-3,6e-3,7e-3,8e-3,9e-3,2e-2,3e-2,4e-2,5e-2,6e-2,7e-2,8e-2,9e-2,2e-1];
const altTicks=[5,6,7,8,9,10,11,12,13,14];
const cbarTicks=[0,0.2,0.4,0.6,0.8,1.0];
const legendNames=['Marine fraction \u2265 0.9','0.2 > Marine fraction < 0.9','Marine fraction \u2264 0.2'];

// ---------- build ----------
function legs(list){const out=[];list.forEach(([alt,arr])=>arr.forEach(([x,f])=>out.push([x,alt,f])));return out;}
const zip=(xs,ys)=>xs.map((x,i)=>[x,ys[i]]);
const saData=legs([[13.73,saLeg13_73],[13.11,saLeg13_11],[12.65,saLeg12_65],[12.52,saLeg12_52],[12.2,saLeg12_20],[11.89,saLeg11_89],[11.29,saLeg11_29],[10.96,saLeg10_96],[10.66,saLeg10_66]]).concat(saPts);
const msaData=legs([[13.72,msaLeg13_72],[13.12,msaLeg13_12],[12.65,msaLeg12_65],[12.5,msaLeg12_50],[12.21,msaLeg12_21],[11.89,msaLeg11_89],[11.29,msaLeg11_29],[10.97,msaLeg10_97],[10.66,msaLeg10_66],[9.44,msaLeg9_44],[9.14,msaLeg9_14],[8.55,msaLeg8_55],[7.32,msaLeg7_32],[6.1,msaLeg6_10]]).concat(msaPts);

const FONT='DejaVu Sans';
const XMIN=6.0e-4, XMAX=0.293, YMIN=altTicks[0], YMAX=altTicks[altTicks.length-1];
function logLabel(v){const e=Math.round(Math.log10(v));return '{b|10}{s|'+String(e).replace('-','\u2212')+'}';}
const richLab={b:{fontSize:16.7,fontFamily:FONT,color:'#000',lineHeight:18,verticalAlign:'bottom'},s:{fontSize:11.7,fontFamily:FONT,color:'#000',lineHeight:10,verticalAlign:'top'}};
const richName={t:{fontSize:16.7,fontFamily:FONT,color:'#000',lineHeight:18,verticalAlign:'bottom'},i:{fontSize:16.7,fontFamily:FONT,fontStyle:'italic',color:'#000',lineHeight:18,verticalAlign:'bottom'},s:{fontSize:11.7,fontFamily:FONT,color:'#000',lineHeight:10,verticalAlign:'top'}};

function xAxis(idx,label){
  return {type:'log',logBase:10,gridIndex:idx,min:XMIN,max:XMAX,
    name:'{t|'+label+' [}{i|\u03bc}{t|g\u2009m}{s|\u22123}{t|\u2009STP]}',nameLocation:'middle',nameGap:30,
    nameTextStyle:{rich:richName},
    axisLine:{show:false},axisTick:{show:false},splitLine:{show:false},minorTick:{show:false},
    axisLabel:{show:true,showMinLabel:false,showMaxLabel:false,margin:7,formatter:logLabel,rich:richLab}};
}
function yAxis(idx,showLabels){
  return {type:'value',gridIndex:idx,min:YMIN,max:YMAX,interval:1,
    name:showLabels?'Altitude [km]':'',nameLocation:'middle',nameGap:36,nameRotate:90,
    nameTextStyle:{fontSize:16.7,fontFamily:FONT,color:'#000'},
    axisLine:{show:false},splitLine:{show:false},
    axisTick:{show:true,length:4.9,lineStyle:{color:'#000',width:1.1}},
    axisLabel:{show:showLabels,margin:8,fontSize:16.7,fontFamily:FONT,color:'#000'}};
}
function tickSeries(idx,vals,len,w){
  return {type:'custom',xAxisIndex:idx,yAxisIndex:idx,clip:false,silent:true,z:5,
    data:vals.map(v=>[v,YMIN]),
    renderItem:function(params,api){const p=api.coord([api.value(0),api.value(1)]);
      return {type:'line',shape:{x1:p[0],y1:p[1],x2:p[0],y2:p[1]+len},style:{stroke:'#000',lineWidth:w}};}};
}
function lineSeries(idx,name,color,xs,ys){
  return {type:'line',name:name,xAxisIndex:idx,yAxisIndex:idx,data:zip(xs,ys),symbol:'none',z:4,
    lineStyle:{color:color,width:2.8},itemStyle:{color:color},silent:true};
}
const NAVY='#000080', GREEN='#228b22', ORANGE='#ff8c00';
const cmap=['rgba(255,139,0,0.5)','rgba(255,169,1,0.5)','rgba(245,201,1,0.5)','rgba(205,209,45,0.5)','rgba(173,209,73,0.5)','rgba(137,213,113,0.5)','rgba(89,215,159,0.5)','rgba(41,181,189,0.5)','rgba(17,97,165,0.5)','rgba(3,33,141,0.5)','rgba(0,0,128,0.5)'];

const option={
  animation:false,
  backgroundColor:'#fff',
  textStyle:{fontFamily:FONT},
  grid:[
    {left:62.7,top:21.7,width:351.3,height:443.8,show:true,borderColor:'#000',borderWidth:1.1,backgroundColor:'transparent',containLabel:false,z:6},
    {left:414,top:21.7,width:327,height:443.8,show:true,borderColor:'#000',borderWidth:1.1,backgroundColor:'transparent',containLabel:false,z:6},
    {left:749.3,top:21.7,width:17.4,height:443.8,show:true,borderColor:'#000',borderWidth:1.1,backgroundColor:'transparent',containLabel:false,z:10}
  ],
  xAxis:[xAxis(0,'SA'),xAxis(1,'MSA'),{type:'value',gridIndex:2,show:false,min:0,max:1}],
  yAxis:[yAxis(0,true),yAxis(1,false),
    {type:'value',gridIndex:2,position:'right',min:0,max:1,interval:0.2,z:10,
     name:'Marine fraction (5 days)',nameLocation:'middle',nameGap:36,nameRotate:90,
     nameTextStyle:{fontSize:16.7,fontFamily:FONT,color:'#000',padding:[0,0,0,6]},
     axisLine:{show:false},splitLine:{show:false},
     axisTick:{show:true,length:4.9,lineStyle:{color:'#000',width:1.1}},
     axisLabel:{margin:5,fontSize:16.7,fontFamily:FONT,color:'#000',formatter:v=>v.toFixed(1)}}],
  visualMap:{type:'continuous',min:cbarTicks[0],max:cbarTicks[cbarTicks.length-1],dimension:2,seriesIndex:[0,1],
    calculable:false,hoverLink:false,orient:'vertical',left:749.3,top:21.7,padding:0,
    itemWidth:17.4,itemHeight:443.8,text:null,inRange:{color:cmap},outOfRange:{color:['rgba(255,255,255,0)']},
    controller:{inRange:{color:cmap},outOfRange:{color:['rgba(255,255,255,0)']}}},
  legend:{data:legendNames.map(n=>({name:n,icon:'rect'})),orient:'vertical',left:108,top:376.7,
    itemWidth:34,itemHeight:2.8,itemGap:8.3,padding:[5.3,7,7.5,7],
    backgroundColor:'rgba(255,255,255,0.8)',borderColor:'#cccccc',borderWidth:1.1,borderRadius:4,
    textStyle:{fontSize:16.9,fontFamily:FONT,color:'#000',lineHeight:17,padding:[0,0,0,9]},selectedMode:false,z:8},
  graphic:[
    {type:'text',x:408,y:38.3,style:{text:'(a)',font:'20px "DejaVu Sans"',fill:'#000',textAlign:'right',textVerticalAlign:'middle'},z:20},
    {type:'text',x:735,y:38.3,style:{text:'(b)',font:'20px "DejaVu Sans"',fill:'#000',textAlign:'right',textVerticalAlign:'middle'},z:20}
  ],
  series:[
    {type:'scatter',xAxisIndex:0,yAxisIndex:0,data:saData,symbolSize:6.8,itemStyle:{opacity:1},z:2,silent:true},
    {type:'scatter',xAxisIndex:1,yAxisIndex:1,data:msaData,symbolSize:6.8,itemStyle:{opacity:1},z:2,silent:true},
    lineSeries(0,legendNames[0],NAVY,saHighVal,saHighAlt),
    lineSeries(0,legendNames[1],GREEN,saMidVal,saMidAlt),
    lineSeries(0,legendNames[2],ORANGE,saLowVal,saLowAlt),
    lineSeries(1,legendNames[0],NAVY,msaHighVal,msaHighAlt),
    lineSeries(1,legendNames[1],GREEN,msaMidVal,msaMidAlt),
    lineSeries(1,legendNames[2],ORANGE,msaLowVal,msaLowAlt),
    {type:'custom',xAxisIndex:1,yAxisIndex:1,silent:true,z:1,clip:true,data:[[msaSpreadHi[0],msaSpreadAlt[0]]],
     renderItem:function(params,api){
       const pts=[];
       for(let i=0;i<msaSpreadAlt.length;i++)pts.push(api.coord([msaSpreadLo[i],msaSpreadAlt[i]]));
       for(let i=msaSpreadAlt.length-1;i>=0;i--)pts.push(api.coord([msaSpreadHi[i],msaSpreadAlt[i]]));
       const cs=params.coordSys;
       return {type:'polygon',shape:{points:pts},style:{fill:'rgba(255,140,0,0.1)'},
         clipPath:{type:'rect',shape:{x:cs.x,y:cs.y,width:cs.width,height:cs.height}}};
     }},
    tickSeries(0,xMajor,4.9,1.1),tickSeries(0,xMinor,2.8,0.8),
    tickSeries(1,xMajor,4.9,1.1),tickSeries(1,xMinor,2.8,0.8)
  ]
};
const chart=echarts.init(document.getElementById('c'),null,{renderer:'canvas'});
chart.setOption(option);
</script></body></html>
